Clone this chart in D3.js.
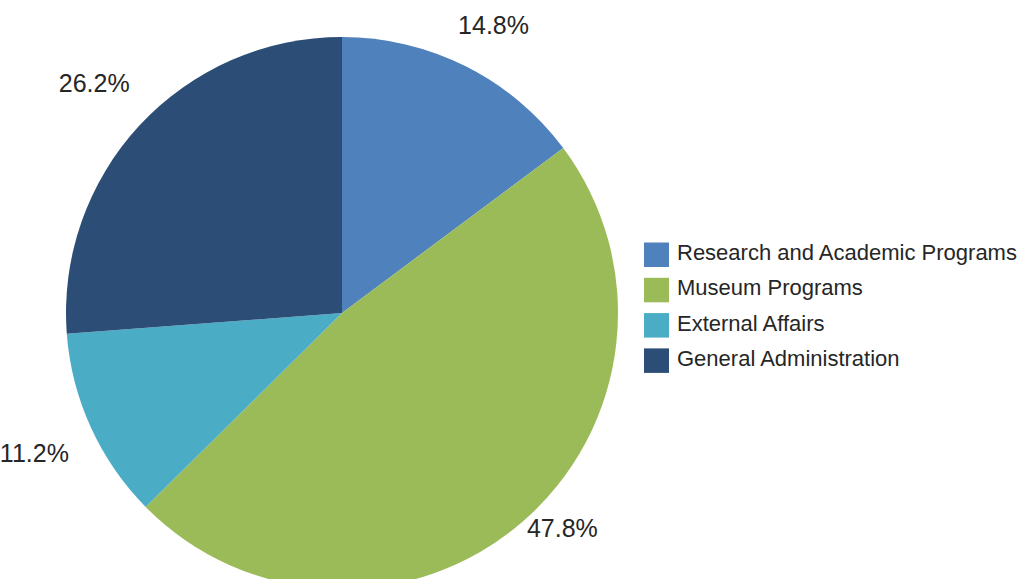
<!DOCTYPE html>
<html>
<head>
<meta charset="utf-8">
<script src="https://cdn.jsdelivr.net/npm/d3@7"></script>
<style>
  html, body { margin: 0; padding: 0; background: #fff; }
  svg { display: block; }
</style>
</head>
<body>
<div id="chart"></div>
<script>
// Data
const categories = ['Research and Academic Programs', 'Museum Programs', 'External Affairs', 'General Administration'];
const shares = [14.8, 47.8, 11.2, 26.2];
const colors = ['#4F81BD', '#9BBB59', '#4BACC6', '#2C4D75'];

const width = 1021;
const height = 579;
const cx = 342, cy = 313;
const radius = 276;

const svg = d3.select('#chart')
    .append('svg')
    .attr('width', width)
    .attr('height', height);

const pie = d3.pie().sort(null).value(d => d.value);
const arcs = pie(categories.map((c, i) => ({ name: c, value: shares[i] })));

const arc = d3.arc().innerRadius(0).outerRadius(radius);
const labelArc = d3.arc().innerRadius(338).outerRadius(338);

const g = svg.append('g').attr('transform', `translate(${cx},${cy})`);

g.selectAll('path')
    .data(arcs)
    .join('path')
    .attr('d', arc)
    .attr('fill', (d, i) => colors[i]);

// Percent labels outside each slice, kept inside the picture vertically
function labelPos(d) {
    const [x, y] = labelArc.centroid(d);
    const yc = Math.max(25 - cy, Math.min(height - 51 - cy, y));
    return [x, yc];
}

g.selectAll('text.pct')
    .data(arcs)
    .join('text')
    .attr('class', 'pct')
    .attr('transform', d => `translate(${labelPos(d)})`)
    .attr('text-anchor', 'middle')
    .attr('dominant-baseline', 'central')
    .style('font-family', '"Liberation Sans Narrow", "Liberation Sans", Arial, sans-serif')
    .style('font-size', '25px')
    .style('fill', '#262626')
    .text(d => d.data.value.toFixed(1) + '%');

// Legend
const legend = svg.append('g').attr('transform', 'translate(644,242.5)');
const rowH = 35.3;

const item = legend.selectAll('g')
    .data(categories)
    .join('g')
    .attr('transform', (d, i) => `translate(0,${i * rowH})`);

item.append('rect')
    .attr('width', 25)
    .attr('height', 24.5)
    .attr('fill', (d, i) => colors[i]);

item.append('text')
    .attr('x', 33)
    .attr('y', 17.5)
    .style('font-family', '"Liberation Sans", Arial, sans-serif')
    .style('font-size', '22px')
    .style('fill', '#262626')
    .text(d => d);
</script>
</body>
</html>
